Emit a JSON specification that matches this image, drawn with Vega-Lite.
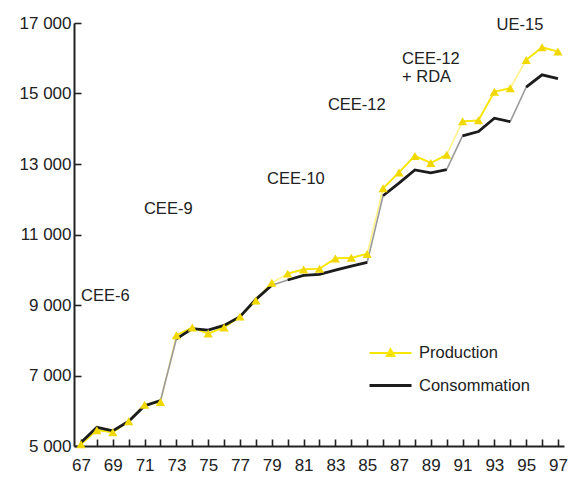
{
  "$schema": "https://vega.github.io/schema/vega-lite/v6.json",
  "autosize": "none",
  "width": 490,
  "height": 423,
  "padding": {"left": 74, "top": 23, "right": 6, "bottom": 35},
  "background": "white",
  "config": {
    "view": {"stroke": null},
    "font": "Liberation Sans",
    "axis": {"grid": false, "title": null, "labelFont": "Liberation Sans", "labelFontSize": 17, "labelColor": "#222222", "domainColor": "#222222", "domainWidth": 2, "tickColor": "#222222", "tickWidth": 1.6}
  },
  "datasets": {
    "series": [
      {"year": 67, "series": "Production", "group": "CEE-6", "value": 5050},
      {"year": 68, "series": "Production", "group": "CEE-6", "value": 5450},
      {"year": 69, "series": "Production", "group": "CEE-6", "value": 5390},
      {"year": 70, "series": "Production", "group": "CEE-6", "value": 5700},
      {"year": 71, "series": "Production", "group": "CEE-6", "value": 6170},
      {"year": 72, "series": "Production", "group": "CEE-6", "value": 6250},
      {"year": 73, "series": "Production", "group": "CEE-9", "value": 8140},
      {"year": 74, "series": "Production", "group": "CEE-9", "value": 8360},
      {"year": 75, "series": "Production", "group": "CEE-9", "value": 8190},
      {"year": 76, "series": "Production", "group": "CEE-9", "value": 8360},
      {"year": 77, "series": "Production", "group": "CEE-9", "value": 8670},
      {"year": 78, "series": "Production", "group": "CEE-9", "value": 9130},
      {"year": 79, "series": "Production", "group": "CEE-9", "value": 9630},
      {"year": 80, "series": "Production", "group": "CEE-10", "value": 9890},
      {"year": 81, "series": "Production", "group": "CEE-10", "value": 10010},
      {"year": 82, "series": "Production", "group": "CEE-10", "value": 10030},
      {"year": 83, "series": "Production", "group": "CEE-10", "value": 10320},
      {"year": 84, "series": "Production", "group": "CEE-10", "value": 10340},
      {"year": 85, "series": "Production", "group": "CEE-10", "value": 10450},
      {"year": 86, "series": "Production", "group": "CEE-12", "value": 12310},
      {"year": 87, "series": "Production", "group": "CEE-12", "value": 12760},
      {"year": 88, "series": "Production", "group": "CEE-12", "value": 13230},
      {"year": 89, "series": "Production", "group": "CEE-12", "value": 13030},
      {"year": 90, "series": "Production", "group": "CEE-12", "value": 13260},
      {"year": 91, "series": "Production", "group": "CEE-12 + RDA", "value": 14210},
      {"year": 92, "series": "Production", "group": "CEE-12 + RDA", "value": 14240},
      {"year": 93, "series": "Production", "group": "CEE-12 + RDA", "value": 15050},
      {"year": 94, "series": "Production", "group": "CEE-12 + RDA", "value": 15150},
      {"year": 95, "series": "Production", "group": "UE-15", "value": 15950},
      {"year": 96, "series": "Production", "group": "UE-15", "value": 16310},
      {"year": 97, "series": "Production", "group": "UE-15", "value": 16190},
      {"year": 67, "series": "Consommation", "group": "CEE-6", "value": 5100},
      {"year": 68, "series": "Consommation", "group": "CEE-6", "value": 5530},
      {"year": 69, "series": "Consommation", "group": "CEE-6", "value": 5430},
      {"year": 70, "series": "Consommation", "group": "CEE-6", "value": 5700},
      {"year": 71, "series": "Consommation", "group": "CEE-6", "value": 6140},
      {"year": 72, "series": "Consommation", "group": "CEE-6", "value": 6290},
      {"year": 73, "series": "Consommation", "group": "CEE-9", "value": 8040},
      {"year": 74, "series": "Consommation", "group": "CEE-9", "value": 8330},
      {"year": 75, "series": "Consommation", "group": "CEE-9", "value": 8290},
      {"year": 76, "series": "Consommation", "group": "CEE-9", "value": 8420},
      {"year": 77, "series": "Consommation", "group": "CEE-9", "value": 8670},
      {"year": 78, "series": "Consommation", "group": "CEE-9", "value": 9160},
      {"year": 79, "series": "Consommation", "group": "CEE-9", "value": 9560},
      {"year": 80, "series": "Consommation", "group": "CEE-10", "value": 9710},
      {"year": 81, "series": "Consommation", "group": "CEE-10", "value": 9840},
      {"year": 82, "series": "Consommation", "group": "CEE-10", "value": 9870},
      {"year": 83, "series": "Consommation", "group": "CEE-10", "value": 9990},
      {"year": 84, "series": "Consommation", "group": "CEE-10", "value": 10100},
      {"year": 85, "series": "Consommation", "group": "CEE-10", "value": 10210},
      {"year": 86, "series": "Consommation", "group": "CEE-12", "value": 12100},
      {"year": 87, "series": "Consommation", "group": "CEE-12", "value": 12460},
      {"year": 88, "series": "Consommation", "group": "CEE-12", "value": 12830},
      {"year": 89, "series": "Consommation", "group": "CEE-12", "value": 12750},
      {"year": 90, "series": "Consommation", "group": "CEE-12", "value": 12840},
      {"year": 91, "series": "Consommation", "group": "CEE-12 + RDA", "value": 13800},
      {"year": 92, "series": "Consommation", "group": "CEE-12 + RDA", "value": 13920},
      {"year": 93, "series": "Consommation", "group": "CEE-12 + RDA", "value": 14300},
      {"year": 94, "series": "Consommation", "group": "CEE-12 + RDA", "value": 14200},
      {"year": 95, "series": "Consommation", "group": "UE-15", "value": 15180},
      {"year": 96, "series": "Consommation", "group": "UE-15", "value": 15530},
      {"year": 97, "series": "Consommation", "group": "UE-15", "value": 15420}
    ],
    "labels": [
      {"label": "CEE-6", "year": 67.0, "value": 9254},
      {"label": "CEE-9", "year": 70.96, "value": 11727},
      {"label": "CEE-10", "year": 78.7, "value": 12577},
      {"label": "CEE-12", "year": 82.53, "value": 14680},
      {"label": "CEE-12", "year": 87.19, "value": 15972},
      {"label": "+ RDA", "year": 87.19, "value": 15462},
      {"label": "UE-15", "year": 93.14, "value": 16943}
    ]
  },
  "encoding": {
    "x": {"field": "year", "type": "quantitative", "scale": {"domain": [66.56, 97.38], "nice": false, "zero": false},
      "axis": {"values": [67,68,69,70,71,72,73,74,75,76,77,78,79,80,81,82,83,84,85,86,87,88,89,90,91,92,93,94,95,96,97], "labelExpr": "datum.value % 2 == 1 ? format(datum.value, 'd') : ''", "ticks": true, "tickSize": -7, "labelPadding": 18, "labelFlush": false, "labelOverlap": false}},
    "y": {"field": "value", "type": "quantitative", "scale": {"domain": [5000, 17000], "nice": false, "zero": false},
      "axis": {"values": [5000, 7000, 9000, 11000, 13000, 15000, 17000], "labelExpr": "replace(format(datum.value, ','), ',', ' ')", "ticks": true, "tickSize": -7, "labelPadding": 10, "labelFlush": false, "labelOverlap": false}}
  },
  "layer": [
    {
      "data": {"name": "series"},
      "transform": [{"filter": "datum.series === 'Production'"}],
      "mark": {"type": "line", "color": "#fff38a", "strokeWidth": 1.6}
    },
    {
      "data": {"name": "series"},
      "transform": [{"filter": "datum.series === 'Consommation'"}],
      "mark": {"type": "line", "color": "#9a9a9a", "strokeWidth": 1.6}
    },
    {
      "data": {"name": "series"},
      "mark": {"type": "line"},
      "encoding": {
        "detail": {"field": "group"},
        "color": {"field": "series", "type": "nominal",
          "scale": {"domain": ["Production", "Consommation"], "range": ["#f7e600", "#1c1c1c"]},
          "legend": {"orient": "none", "legendX": 304.5, "legendY": 318.5, "title": null, "padding": 0,
            "labelFont": "Liberation Sans", "labelFontSize": 16.5, "labelColor": "#222222",
            "symbolSize": 441, "labelOffset": 16.5, "rowPadding": 12,
            "encode": {"symbols": {"update": {
              "shape": {"signal": "datum.value === 'Production' ? 'M-2,0H2M-0.38,0.3L0,-0.38L0.38,0.3Z' : 'M-2,0H2'"},
              "fill": {"signal": "datum.value === 'Production' ? '#f0d800' : 'transparent'"},
              "stroke": {"signal": "datum.value === 'Production' ? '#f7e600' : '#1c1c1c'"},
              "strokeWidth": {"signal": "datum.value === 'Production' ? 1.8 : 2.6"},
              "size": {"value": 441}
            }}}}},
        "strokeWidth": {"field": "series", "type": "nominal", "scale": {"domain": ["Production", "Consommation"], "range": [1.8, 2.8]}, "legend": null}
      }
    },
    {
      "data": {"name": "series"},
      "transform": [{"filter": "datum.series === 'Production'"}],
      "mark": {"type": "point", "shape": "triangle-up", "filled": true, "size": 85, "color": "#f0d800", "opacity": 1}
    },
    {
      "data": {"name": "labels"},
      "mark": {"type": "text", "align": "left", "baseline": "middle", "font": "Liberation Sans", "fontSize": 16.5, "color": "#222222"},
      "encoding": {"text": {"field": "label"}}
    }
  ]
}
